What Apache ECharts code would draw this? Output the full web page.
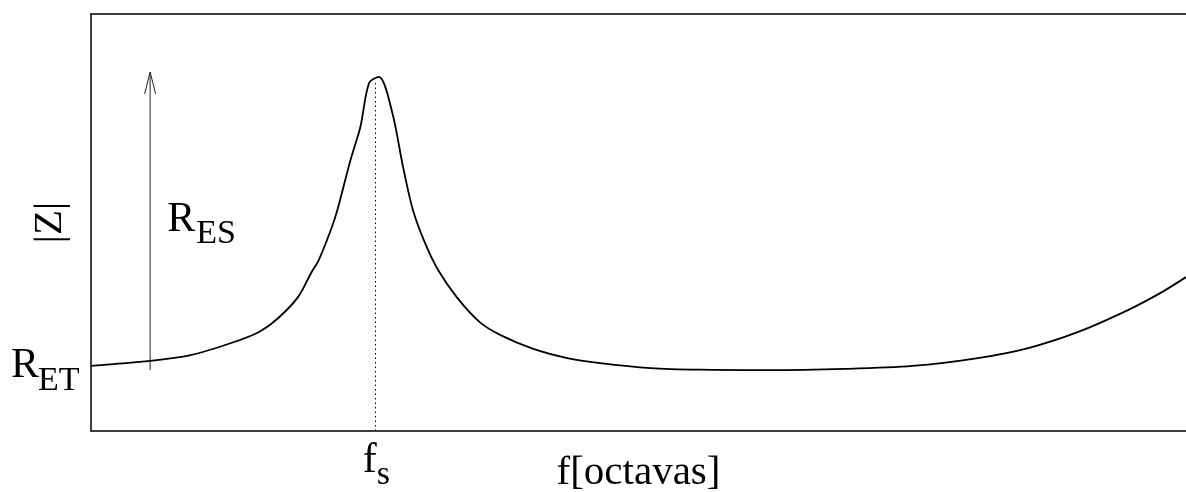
<!DOCTYPE html>
<html><head><meta charset="utf-8">
<script src="https://cdn.jsdelivr.net/npm/echarts@6/dist/echarts.min.js"></script>
<style>html,body{margin:0;padding:0;background:#fff}#c{width:1186px;height:492px}</style>
</head><body><div id="c"></div>
<script>
// frequency in octaves (0..10) and impedance magnitude (0..10)
const freq = [0, 0.54, 0.91, 1.28, 1.53, 1.71, 1.89, 2.01, 2.08, 2.19, 2.25, 2.37, 2.46, 2.54, 2.63,
  2.75, 2.85, 2.94, 3.05, 3.17, 3.34, 3.55, 3.74, 4.04, 4.35, 4.65, 5.11, 5.56, 6.17, 6.89, 7.50,
  8.10, 8.56, 9.01, 9.47, 9.78, 10];
const impedance = [1.56, 1.68, 1.82, 2.11, 2.37, 2.71, 3.21, 3.79, 4.10, 4.82, 5.30, 6.50, 7.29, 8.35, 8.49,
  7.65, 6.33, 5.30, 4.51, 3.86, 3.21, 2.61, 2.30, 1.97, 1.75, 1.63, 1.51, 1.47, 1.46, 1.49, 1.56,
  1.75, 1.99, 2.37, 2.90, 3.33, 3.69];
const resonanceFreq = 2.60;
const resonanceTop = 8.35;
const arrowX = 0.54;
const arrowFrom = 1.46;
const arrowTo = 8.61;
const xName = 'f[octavas]';
const yName = '|Z|';

const FONT = '"Liberation Serif", "Times New Roman", serif';
const chart = echarts.init(document.getElementById('c'), null, {renderer: 'canvas'});
const data = freq.map((f, i) => [f, impedance[i]]);
const axisCommon = {
  type: 'value', min: 0, max: 10,
  axisLine: {show: true, onZero: false, lineStyle: {color: '#000', width: 1.5}},
  axisTick: {show: false}, axisLabel: {show: false}, splitLine: {show: false}
};
chart.setOption({
  animation: false,
  backgroundColor: '#fff',
  grid: {left: 91, top: 14, right: 0, bottom: 61, containLabel: false, outerBoundsMode: 'none'},
  xAxis: [
    Object.assign({}, axisCommon, {position: 'bottom', name: xName, nameLocation: 'middle', nameGap: 22,
      nameTextStyle: {fontFamily: FONT, fontSize: 41, color: '#000'}}),
    Object.assign({}, axisCommon, {position: 'top'})
  ],
  yAxis: Object.assign({}, axisCommon, {name: yName, nameLocation: 'middle', nameGap: 20, nameRotate: 90,
    nameTextStyle: {fontFamily: FONT, fontSize: 41, color: '#000'}}),
  series: [
    {
      type: 'line', data: data, showSymbol: false, smooth: 0.3,
      lineStyle: {color: '#000', width: 1.8},
      markLine: {
        silent: true, symbol: 'none', label: {show: false},
        lineStyle: {color: '#000', width: 1, type: [1.5, 3]},
        data: [[{coord: [resonanceFreq, 0]}, {coord: [resonanceFreq, resonanceTop]}]]
      }
    },
    {
      type: 'custom', data: [[arrowX, arrowFrom, arrowTo]], silent: true,
      renderItem: function (params, api) {
        const p0 = api.coord([api.value(0), api.value(1)]);
        const p1 = api.coord([api.value(0), api.value(2)]);
        const st = {stroke: '#222', lineWidth: 1, fill: null};
        return {type: 'group', children: [
          {type: 'line', shape: {x1: p0[0], y1: p0[1], x2: p1[0], y2: p1[1]}, style: st},
          {type: 'polyline', shape: {points: [[p1[0] - 5.5, p1[1] + 22], [p1[0], p1[1]], [p1[0] + 5.5, p1[1] + 22]]}, style: st}
        ]};
      }
    }
  ]
});

function t(x, y, s, size) {
  return {type: 'text', x: x, y: y, silent: true,
    style: {text: s, font: size + 'px ' + FONT, fill: '#000', align: 'left', verticalAlign: 'middle'}};
}
const pStart = chart.convertToPixel({gridIndex: 0}, [0, impedance[0]]);
const pArrowMid = chart.convertToPixel({gridIndex: 0}, [arrowX, (arrowFrom + arrowTo) / 2]);
const pFs = chart.convertToPixel({gridIndex: 0}, [resonanceFreq, 0]);
chart.setOption({
  graphic: [
    t(11, pStart[1], 'R', 42), t(38, pStart[1] + 15, 'ET', 34),
    t(pArrowMid[0] + 17, pArrowMid[1] - 1, 'R', 42), t(pArrowMid[0] + 46, pArrowMid[1] + 13, 'ES', 34),
    t(pFs[0] - 13, pFs[1] + 30, 'f', 42), t(pFs[0] + 1, pFs[1] + 44, 's', 34)
  ]
});
</script></body></html>
